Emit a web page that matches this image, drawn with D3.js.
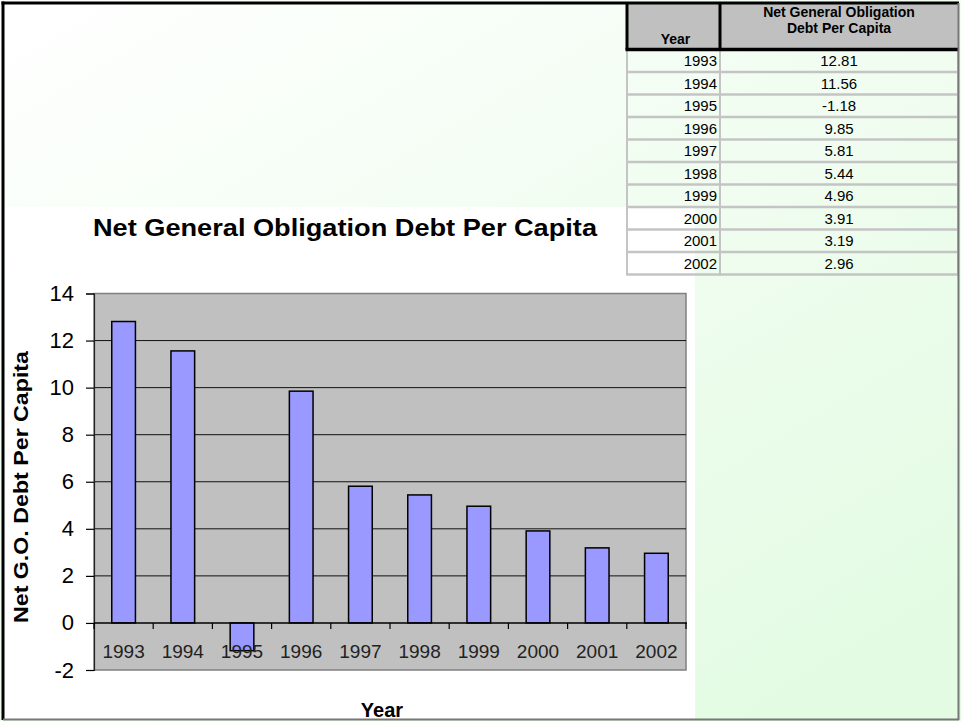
<!DOCTYPE html>
<html>
<head>
<meta charset="utf-8">
<script src="https://cdn.jsdelivr.net/npm/d3@7"></script>
<style>
    body { margin: 0; background: #fff; }
    svg { display: block; font-family: "Liberation Sans", Arial, sans-serif; }
</style>
</head>
<body>
<svg id="chart" width="961" height="721"></svg>
<script>
/**
 * Data.
 */
const years = ['1993', '1994', '1995', '1996', '1997', '1998', '1999', '2000', '2001', '2002'];
const debtPerCapita = [12.81, 11.56, -1.18, 9.85, 5.81, 5.44, 4.96, 3.91, 3.19, 2.96];
const yTicks = [-2, 0, 2, 4, 6, 8, 10, 12, 14];
const tableHeaders = ['Year', 'Net General Obligation', 'Debt Per Capita'];

/**
 * Visual configs.
 */
const plot = { left: 94, right: 686, top: 293.5, bottom: 670 },
    table = { left: 627, mid: 720, right: 958, top: 3, headBottom: 49.5, rowHeight: 22.5 },
    barFill = '#9999ff',
    plotFill = '#c0c0c0';

// Plain hyphen for negatives, like the spreadsheet
const locale = d3.formatLocale({ decimal: '.', thousands: ',', grouping: [3], currency: ['$', ''], minus: '-' });

const svg = d3.select('#chart');

// Background gradient
const defs = svg.append('defs');
const grad = defs.append('linearGradient').attr('id', 'bg')
    .attr('x1', 0).attr('y1', 0).attr('x2', 0.8).attr('y2', 1);
grad.append('stop').attr('offset', 0).attr('stop-color', '#ffffff');
grad.append('stop').attr('offset', 1).attr('stop-color', '#e3fbe3');

svg.append('rect').attr('width', 961).attr('height', 721).attr('fill', 'url(#bg)');
// White chart area
svg.append('rect').attr('x', 3).attr('y', 207).attr('width', 692).attr('height', 512).attr('fill', '#fff');

/**
 * Scales.
 */
const x = d3.scaleBand().domain(years).range([plot.left, plot.right])
    .paddingInner(0.6).paddingOuter(0.3);
const y = d3.scaleLinear().domain([-2, 14]).range([plot.bottom, plot.top]);

const chart = svg.append('g').attr('class', 'chart');

// Plot area
chart.append('rect')
    .attr('x', plot.left).attr('y', plot.top)
    .attr('width', plot.right - plot.left).attr('height', plot.bottom - plot.top)
    .attr('fill', plotFill).attr('stroke', '#808080').attr('stroke-width', 1.5);

// Gridlines
chart.append('g').selectAll('line').data(yTicks.filter(d => d > 0 && d < 14)).join('line')
    .attr('x1', plot.left).attr('x2', plot.right)
    .attr('y1', d => y(d)).attr('y2', d => y(d))
    .attr('stroke', '#111').attr('stroke-width', 1);

// Y axis
const yAxis = chart.append('g')
    .attr('transform', 'translate(' + plot.left + ',0)')
    .call(d3.axisLeft(y).tickValues(yTicks).tickSize(8).tickPadding(12).tickFormat(locale.format('d')));
yAxis.select('.domain').attr('stroke', '#222').attr('stroke-width', 1.2);
yAxis.selectAll('.tick line').attr('stroke', '#000').attr('stroke-width', 1.2);
yAxis.selectAll('.tick text').attr('font-size', 22).attr('fill', '#000')
    .attr('font-family', '"Liberation Sans", Arial, sans-serif');

// Bars
chart.append('g').selectAll('rect').data(years).join('rect')
    .attr('x', d => x(d))
    .attr('width', x.bandwidth())
    .attr('y', (d, i) => y(Math.max(0, debtPerCapita[i])))
    .attr('height', (d, i) => Math.abs(y(debtPerCapita[i]) - y(0)))
    .attr('fill', barFill).attr('stroke', '#000').attr('stroke-width', 1.5);

// X axis at zero
chart.append('line')
    .attr('x1', plot.left).attr('x2', plot.right + 1)
    .attr('y1', y(0)).attr('y2', y(0))
    .attr('stroke', '#000').attr('stroke-width', 1.5);

const boundaries = years.map(d => x(d) - x.step() * x.paddingInner() / 2)
    .concat([plot.right]);
chart.append('g').selectAll('line').data(boundaries).join('line')
    .attr('x1', d => d).attr('x2', d => d)
    .attr('y1', y(0)).attr('y2', y(0) + 6)
    .attr('stroke', '#000').attr('stroke-width', 1.2);

// Category labels
chart.append('g').selectAll('text').data(years).join('text')
    .attr('x', d => x(d) + x.bandwidth() / 2)
    .attr('y', 658)
    .attr('text-anchor', 'middle')
    .attr('font-size', 19)
    .attr('fill', '#222')
    .text(d => d);

// Titles
svg.append('text')
    .attr('x', 345).attr('y', 236)
    .attr('text-anchor', 'middle')
    .attr('font-size', 23).attr('font-weight', 'bold')
    .attr('textLength', 504).attr('lengthAdjust', 'spacingAndGlyphs')
    .text('Net General Obligation Debt Per Capita');

svg.append('text')
    .attr('transform', 'translate(28,487) rotate(-90)')
    .attr('text-anchor', 'middle')
    .attr('font-size', 21).attr('font-weight', 'bold')
    .attr('textLength', 272).attr('lengthAdjust', 'spacingAndGlyphs')
    .text('Net G.O. Debt Per Capita');

svg.append('text')
    .attr('x', 382).attr('y', 717)
    .attr('text-anchor', 'middle')
    .attr('font-size', 20).attr('font-weight', 'bold')
    .text('Year');

/**
 * Table.
 */
const tbl = svg.append('g').attr('class', 'table');
const rowY = i => table.headBottom + i * table.rowHeight;

tbl.append('rect')
    .attr('x', table.left).attr('y', table.top)
    .attr('width', table.right - table.left).attr('height', table.headBottom - table.top)
    .attr('fill', '#c0c0c0');

// Row lines
tbl.append('g').selectAll('line').data(d3.range(1, years.length + 1)).join('line')
    .attr('x1', table.left).attr('x2', table.right)
    .attr('y1', i => rowY(i)).attr('y2', i => rowY(i))
    .attr('stroke', '#c4c4c4').attr('stroke-width', 2.5);

// Body column lines
[table.left, table.mid, table.right].forEach(cx => {
    tbl.append('line')
        .attr('x1', cx).attr('x2', cx)
        .attr('y1', table.headBottom).attr('y2', rowY(years.length) + 1)
        .attr('stroke', '#c4c4c4').attr('stroke-width', 2);
});

// Header borders
[table.left, table.mid].forEach(cx => {
    tbl.append('line')
        .attr('x1', cx).attr('x2', cx)
        .attr('y1', table.top).attr('y2', table.headBottom)
        .attr('stroke', '#000').attr('stroke-width', 3);
});
tbl.append('line')
    .attr('x1', table.left - 1.5).attr('x2', table.right)
    .attr('y1', table.headBottom).attr('y2', table.headBottom)
    .attr('stroke', '#000').attr('stroke-width', 3.5);

// Header text
tbl.append('text')
    .attr('x', (table.left + table.mid) / 2 + 2).attr('y', 44)
    .attr('text-anchor', 'middle').attr('font-size', 14).attr('font-weight', 'bold')
    .text(tableHeaders[0]);
tbl.selectAll('.head2').data(tableHeaders.slice(1)).join('text')
    .attr('class', 'head2')
    .attr('x', (table.mid + table.right) / 2).attr('y', (d, i) => 17 + i * 16)
    .attr('text-anchor', 'middle').attr('font-size', 14).attr('font-weight', 'bold')
    .text(d => d);

// Body text
const fmt = locale.format('.2f');
tbl.append('g').selectAll('text').data(years).join('text')
    .attr('x', table.mid - 3).attr('y', (d, i) => rowY(i) + 16.5)
    .attr('text-anchor', 'end').attr('font-size', 15)
    .text(d => d);
tbl.append('g').selectAll('text').data(debtPerCapita).join('text')
    .attr('x', (table.mid + table.right) / 2).attr('y', (d, i) => rowY(i) + 16.5)
    .attr('text-anchor', 'middle').attr('font-size', 15)
    .text(d => fmt(d));

/**
 * Page frame.
 */
svg.append('line').attr('x1', 1.5).attr('x2', 959).attr('y1', 3).attr('y2', 3)
    .attr('stroke', '#000').attr('stroke-width', 3);
svg.append('line').attr('x1', 3).attr('x2', 3).attr('y1', 1.5).attr('y2', 720)
    .attr('stroke', '#000').attr('stroke-width', 3);
svg.append('line').attr('x1', 958.5).attr('x2', 958.5).attr('y1', 3).attr('y2', 720)
    .attr('stroke', '#777').attr('stroke-width', 2);
svg.append('line').attr('x1', 3).attr('x2', 959).attr('y1', 719.5).attr('y2', 719.5)
    .attr('stroke', '#777').attr('stroke-width', 2);
</script>
</body>
</html>
